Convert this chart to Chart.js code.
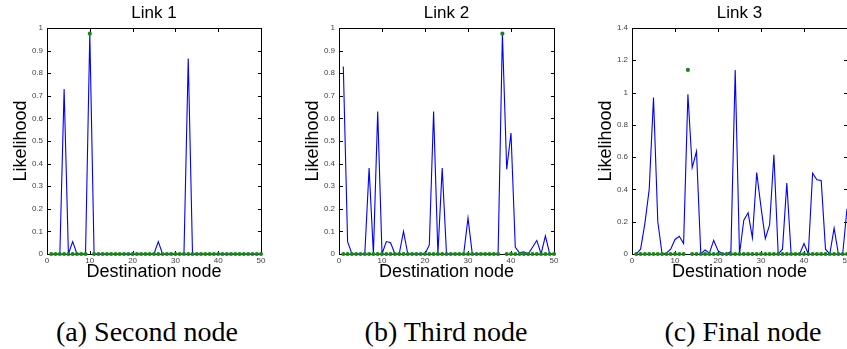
<!DOCTYPE html>
<html>
<head>
<meta charset="utf-8">
<script src="https://cdn.jsdelivr.net/npm/chart.js@4.4.0/dist/chart.umd.min.js"></script>
<style>
    html, body { margin: 0; padding: 0; background: #fff; }
    #wrap { position: relative; width: 847px; height: 349px; overflow: hidden; }
    canvas { position: absolute; top: 0; }
    .caption {
        position: absolute; top: 318px;
        font: 28px "Liberation Serif", "Times New Roman", serif; line-height: 28px;
        white-space: nowrap; transform: translateX(-50%); color: #000;
    }
</style>
</head>
<body>
<div id="wrap">
    <canvas id="chart1" width="310" height="282" style="left:-1px"></canvas>
    <canvas id="chart2" width="311" height="282" style="left:291px"></canvas>
    <canvas id="chart3" width="311" height="282" style="left:584px"></canvas>
    <div class="caption" style="left:147px">(a) Second node</div>
    <div class="caption" style="left:446px">(b) Third node</div>
    <div class="caption" style="left:743px">(c) Final node</div>
</div>
<script>
// --- Data ---
const nodes = [1, 2, 3, 4, 5, 6, 7, 8, 9, 10, 11, 12, 13, 14, 15, 16, 17, 18, 19, 20,
    21, 22, 23, 24, 25, 26, 27, 28, 29, 30, 31, 32, 33, 34, 35, 36, 37, 38, 39, 40,
    41, 42, 43, 44, 45, 46, 47, 48, 49, 50];

const link1 = [0, 0, 0, 0.73, 0, 0.055, 0, 0, 0, 0.975, 0, 0, 0, 0, 0, 0, 0, 0, 0, 0,
    0, 0, 0, 0, 0, 0.055, 0, 0, 0, 0, 0, 0, 0.865, 0, 0, 0, 0, 0, 0, 0,
    0, 0, 0, 0, 0, 0, 0, 0, 0, 0];

const link2 = [0.83, 0.055, 0, 0, 0, 0, 0.38, 0, 0.63, 0, 0.055, 0.05, 0, 0, 0.1, 0, 0, 0, 0, 0,
    0.04, 0.63, 0, 0.38, 0, 0, 0, 0, 0, 0.16, 0, 0, 0, 0, 0, 0, 0, 0.975, 0.375, 0.535,
    0.03, 0.005, 0.01, 0, 0.03, 0.06, 0, 0.08, 0, 0];

const link3 = [0, 0.03, 0.19, 0.4, 0.97, 0.2, 0, 0.005, 0.03, 0.09, 0.11, 0.065, 0.99, 0.535, 0.635, 0, 0.025, 0.005, 0.085, 0.02,
    0, 0, 0.015, 1.14, 0, 0.21, 0.255, 0.1, 0.505, 0.29, 0.095, 0.18, 0.615, 0, 0.03, 0.44, 0, 0, 0, 0.065,
    0, 0.5, 0.46, 0.455, 0.03, 0, 0.16, 0, 0, 0.28];

// true destination (green marker) for each link
const trueNode = [10, 38, 13];
const trueValue = [0.975, 0.975, 1.14];

const titles = ['Link 1', 'Link 2', 'Link 3'];
const yMax = [1, 1, 1.4];
const yStep = [0.1, 0.1, 0.2];
const xTicks = [0, 10, 20, 30, 40, 50];

Chart.defaults.font.family = '"Liberation Sans", Arial, Helvetica, sans-serif';

// box + inward tick marks, matlab style
function drawBox(chart) {
    const { ctx, chartArea: a, scales } = chart;
    const l = Math.round(a.left), r = Math.round(a.right);
    const t = Math.round(a.top), b = Math.round(a.bottom);
    ctx.save();
    ctx.fillStyle = '#000';
    ctx.fillRect(l, t, r - l + 1, 1);
    ctx.fillRect(l, b, r - l + 1, 1);
    ctx.fillRect(l, t, 1, b - t + 1);
    ctx.fillRect(r, t, 1, b - t + 1);
    scales.x.ticks.forEach(tk => {
        const px = Math.round(scales.x.getPixelForValue(tk.value));
        ctx.fillRect(px, b - 3, 1, 3);
        ctx.fillRect(px, t + 1, 1, 3);
    });
    scales.y.ticks.forEach(tk => {
        const py = Math.round(scales.y.getPixelForValue(tk.value));
        ctx.fillRect(l + 1, py, 3, 1);
        ctx.fillRect(r - 3, py, 3, 1);
    });
    ctx.restore();
}

const matlabBox = {
    id: 'matlabBox',
    beforeDatasetsDraw(chart) { drawBox(chart); }
};

function makeChart(id, i, values) {
    const blue = nodes.map((n, k) => ({ x: n, y: values[k] }));
    const green = nodes.map(n => ({ x: n, y: n === trueNode[i] ? trueValue[i] : 0 }));

    return new Chart(document.getElementById(id), {
        type: 'line',
        data: {
            datasets: [
                {
                    data: green,
                    showLine: false,
                    pointRadius: 2.1,
                    pointBorderWidth: 0,
                    pointBackgroundColor: 'rgb(25,135,25)',
                    clip: false,
                },
                {
                    data: blue,
                    borderColor: 'rgb(0,0,255)',
                    borderWidth: 1.1,
                    pointRadius: 0,
                    tension: 0,
                    fill: false,
                    clip: false,
                },
            ],
        },
        options: {
            responsive: false,
            animation: false,
            devicePixelRatio: 1,
            plugins: {
                legend: { display: false },
                tooltip: { enabled: false },
                title: {
                    display: true,
                    text: titles[i],
                    color: '#000',
                    font: { size: 17, weight: 'normal', lineHeight: '20px' },
                    padding: { top: 3, bottom: 5 },
                },
            },
            scales: {
                x: {
                    type: 'linear',
                    min: 0,
                    max: 50,
                    afterBuildTicks: s => { s.ticks = xTicks.map(v => ({ value: v })); },
                    grid: { display: false, drawTicks: false },
                    border: { display: false },
                    ticks: { color: '#444', font: { size: 8 }, padding: 2, maxRotation: 0, autoSkip: false },
                    title: {
                        display: true,
                        text: 'Destination node',
                        color: '#000',
                        font: { size: 18, lineHeight: '20px' },
                        padding: { top: 0, bottom: 0 },
                    },
                    afterFit: s => { s.height = 28; },
                },
                y: {
                    min: 0,
                    max: yMax[i],
                    grid: { display: false, drawTicks: false },
                    border: { display: false },
                    ticks: {
                        stepSize: yStep[i],
                        color: '#444',
                        font: { size: 8 },
                        padding: 4,
                        callback: v => String(+v.toFixed(2)),
                    },
                    title: {
                        display: true,
                        text: 'Likelihood',
                        color: '#000',
                        font: { size: 18, lineHeight: '20px' },
                        padding: { top: 12, bottom: 0 },
                    },
                    afterFit: s => { s.width = 48; },
                },
                // empty right-hand box so the title stays centred on the plot
                yr: {
                    position: 'right',
                    grid: { display: false },
                    border: { display: false },
                    ticks: { display: false },
                    afterFit: s => { s.width = 48; },
                },
            },
        },
        plugins: [matlabBox],
    });
}

document.addEventListener('DOMContentLoaded', () => {
    makeChart('chart1', 0, link1);
    makeChart('chart2', 1, link2);
    makeChart('chart3', 2, link3);
});
</script>
</body>
</html>
